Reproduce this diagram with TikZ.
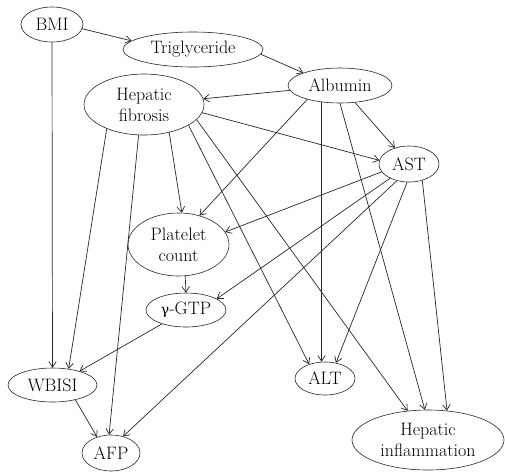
\documentclass[tikz,border=0pt]{standalone}
\usepackage{fontspec}
\newfontfamily\grkfont{DejaVu Serif}
\usetikzlibrary{shapes.geometric,arrows.meta}
\begin{document}
\begin{tikzpicture}[x=1pt,y=-1pt,
  nd/.style={draw=black!85, line width=0.6pt, ellipse, inner sep=0pt, align=center,
    font=\fontsize{18}{21}\selectfont, text=black},
  arr/.style={draw=black!85, line width=0.7pt, -{Straight Barb[length=5.5pt,width=7.5pt]}}]
\useasboundingbox (0,0) rectangle (505,472);
\node[nd, minimum width=62pt, minimum height=35pt] (bmi) at (52,24.5) {BMI};
\node[nd, minimum width=140pt, minimum height=35pt] (trig) at (193,49.5) {Triglyceride};
\node[nd, minimum width=104pt, minimum height=35pt] (alb) at (340,85.5) {Albumin};
\node[nd, minimum width=120pt, minimum height=61pt] (fib) at (144,104.5) {Hepatic\\fibrosis};
\node[nd, minimum width=60pt, minimum height=36pt] (ast) at (409,164) {AST};
\node[nd, minimum width=101pt, minimum height=63pt] (plt) at (178.5,244.5) {Platelet\\count};
\node[nd, minimum width=80pt, minimum height=34pt] (ggt) at (186,310) {{\grkfont\fontsize{14}{18}\selectfont γ}-GTP};
\node[nd, minimum width=89pt, minimum height=34pt] (wbisi) at (52.5,385) {WBISI};
\node[nd, minimum width=60pt, minimum height=33pt] (alt) at (325,378.5) {ALT};
\node[nd, minimum width=58pt, minimum height=36pt] (afp) at (111,453) {AFP};
\node[nd, minimum width=152pt, minimum height=60pt] (infl) at (428,440) {Hepatic\\inflammation};

\draw[arr] (bmi.352) -- (trig.172);
\draw[arr] (bmi) -- (wbisi);
\draw[arr] (trig.356) -- (alb.161);
\draw[arr] (alb) -- (fib);
\draw[arr] (alb) -- (ast);
\draw[arr] (alb.203) -- (plt.54);
\draw[arr] (alb.222) -- (alb.222 |- alt.north);
\draw[arr] (alb.south) -- (infl.96);
\draw[arr] (fib.352) -- (ast.173);
\draw[arr] (fib.213) -- (wbisi.45);
\draw[arr] (fib.260) -- (afp.96);
\draw[arr] (fib.312) -- (plt.84);
\draw[arr] (fib.335) -- (alt.138);
\draw[arr] (fib.344) -- (infl.125);
\draw[arr] (ast.196) -- (plt.15);
\draw[arr] (ast.217) -- (ggt.20);
\draw[arr] (ast.234) -- (afp.54);
\draw[arr] (ast.264) -- (alt.55);
\draw[arr] (ast.309) -- (infl.57);
\draw[arr] (plt.282) -- (ggt.north);
\draw[arr] (ggt.210) -- (wbisi.27);
\draw[arr] (wbisi.327) -- (afp.131);
\end{tikzpicture}
\end{document}
